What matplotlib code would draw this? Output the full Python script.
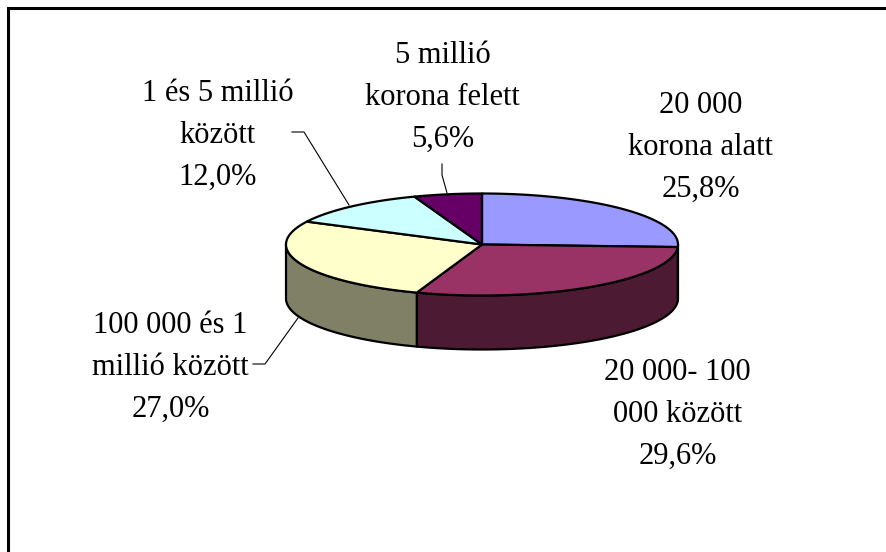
import matplotlib
matplotlib.use('Agg')
import matplotlib.pyplot as plt
import numpy as np

labels = ['20 000\nkorona alatt\n25,8%', '20 000- 100\n000 között\n29,6%',
          '100 000 és 1\nmillió között\n27,0%', '1 és 5 millió\nközött\n12,0%',
          '5 millió\nkorona felett\n5,6%']
values = [25.8, 29.6, 27.0, 12.0, 5.6]
top_colors = ['#9999ff', '#993366', '#ffffcc', '#ccffff', '#660066']
side_colors = ['#4c4c80', '#4d1a33', '#808066', '#668080', '#330033']
# center x, baseline of last line
label_pos = [(700.5, 197), (677.5, 464), (170.5, 417), (218, 185), (442.5, 147)]

# pie geometry in pixels
cx, cy = 482, 244.5
rx, ry = 196, 51
depth = 54

def rim(a0, a1, n=80):
    a = np.linspace(a0, a1, n)
    return cx + rx * np.sin(a), cy - ry * np.cos(a)

fig = plt.figure(figsize=(8.87, 5.52), dpi=100)
ax = fig.add_axes([0, 0, 1, 1])
ax.set_xlim(0, 887)
ax.set_ylim(552, 0)
ax.axis('off')

# chart frame
ax.plot([8, 8, 887], [552, 8, 8], color='black', lw=2.2, solid_joinstyle='miter')

edges = np.cumsum([0] + values) / 100 * 2 * np.pi

# side walls, only the front half of the pie is visible
for i in range(len(values)):
    a0 = max(edges[i], np.pi / 2)
    a1 = min(edges[i + 1], 3 * np.pi / 2)
    if a1 <= a0:
        continue
    x, y = rim(a0, a1)
    ax.fill(np.r_[x, x[::-1]], np.r_[y, y[::-1] + depth], facecolor=side_colors[i],
            edgecolor='black', lw=1.6, joinstyle='round')

# top faces
for i in range(len(values)):
    x, y = rim(edges[i], edges[i + 1])
    ax.fill(np.r_[cx, x], np.r_[cy, y], facecolor=top_colors[i],
            edgecolor='black', lw=1.6, joinstyle='round')

# leader lines
ax.plot([292, 304, 349], [132, 132, 205], color='black', lw=0.8)
ax.plot([442, 442, 447], [164, 175, 193], color='black', lw=0.8)
ax.plot([253, 265, 298], [364, 364, 318], color='black', lw=0.8)

for lab, (x, y) in zip(labels, label_pos):
    ax.text(x, y, lab, ha='center', va='baseline', fontsize=22, color='black',
            family='Liberation Serif', linespacing=1.59)

fig.savefig('out.png', dpi=100, facecolor='white')
